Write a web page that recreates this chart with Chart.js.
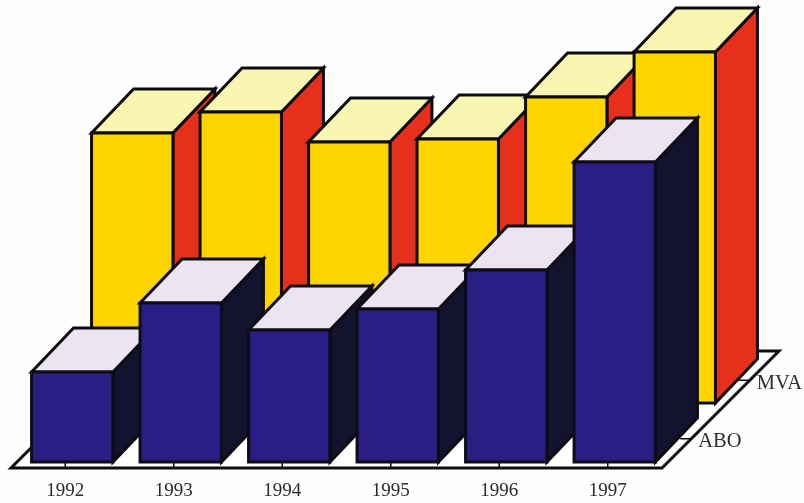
<!DOCTYPE html>
<html>
<head>
<meta charset="utf-8">
<script src="https://cdn.jsdelivr.net/npm/chart.js@4/dist/chart.umd.js"></script>
<style>
html, body { margin: 0; padding: 0; background: #fdfdfc; }
canvas { display: block; }
</style>
</head>
<body>
<canvas id="bars3d" width="804" height="503"></canvas>
<script>
const years = ['1992', '1993', '1994', '1995', '1996', '1997'];
const rows = ['ABO', 'MVA'];
const abo = [30, 53, 44, 51, 64, 100];
const mva = [90, 97, 87, 88, 102, 117];

// oblique projection: how far one row of the floor runs back
const floorDepth = { x: 117, y: -117 };
const barDepth = { x: 42, y: -44 };
const rowShift = [{ x: 7, y: -6 }, { x: 67, y: -65 }];
const rowTicks = [0.25, 0.75];

const faces = [
    { front: '#2a1e84', side: '#13122f', top: '#ece4f3' },
    { front: '#ffd500', side: '#e6301c', top: '#f8f6b0' },
];

function poly(ctx, pts, fill) {
    ctx.beginPath();
    pts.forEach((p, i) => i ? ctx.lineTo(p[0], p[1]) : ctx.moveTo(p[0], p[1]));
    ctx.closePath();
    ctx.fillStyle = fill;
    ctx.fill();
    ctx.stroke();
}

function drawFloor(chart) {
    const ctx = chart.ctx;
    const a = chart.chartArea;
    const x = chart.scales.x;
    poly(ctx, [
        [a.left, a.bottom],
        [a.right, a.bottom],
        [a.right + floorDepth.x, a.bottom + floorDepth.y],
        [a.left + floorDepth.x, a.bottom + floorDepth.y],
    ], '#ffffff');

    ctx.lineWidth = 1.5;
    years.forEach((y, i) => {
        const px = x.getPixelForTick(i);
        ctx.beginPath();
        ctx.moveTo(px, a.bottom - 6);
        ctx.lineTo(px, a.bottom);
        ctx.stroke();
    });

    // row names along the right edge of the floor
    ctx.font = '20.5px "Liberation Serif"';
    ctx.textAlign = 'left';
    ctx.textBaseline = 'middle';
    rows.forEach((name, i) => {
        const ex = a.right + floorDepth.x * rowTicks[i];
        const ey = a.bottom + floorDepth.y * rowTicks[i];
        ctx.beginPath();
        ctx.moveTo(ex - 11, ey);
        ctx.lineTo(ex, ey);
        ctx.stroke();
        ctx.fillStyle = '#2e2e2e';
        ctx.fillText(name, ex + 7, ey + 3);
    });
}

function drawBar(ctx, bar, shift, look) {
    const half = bar.width / 2;
    const l = bar.x - half + shift.x;
    const r = bar.x + half + shift.x;
    const t = bar.y + shift.y;
    const b = bar.base + shift.y;
    const dx = barDepth.x;
    const dy = barDepth.y;
    poly(ctx, [[r, t], [r + dx, t + dy], [r + dx, b + dy], [r, b]], look.side);
    poly(ctx, [[l, t], [r, t], [r + dx, t + dy], [l + dx, t + dy]], look.top);
    poly(ctx, [[l, t], [r, t], [r, b], [l, b]], look.front);
}

const blocks = {
    id: 'blocks',
    beforeDatasetsDraw(chart) {
        const ctx = chart.ctx;
        ctx.save();
        ctx.strokeStyle = '#0c0c12';
        ctx.lineWidth = 3;
        ctx.lineJoin = 'miter';
        drawFloor(chart);
        ctx.lineWidth = 3;
        // far row first, each row left to right, so nearer blocks overlap
        for (let i = rows.length - 1; i >= 0; i--) {
            chart.getDatasetMeta(i).data.forEach(bar => {
                drawBar(ctx, bar, rowShift[i], faces[i]);
            });
        }
        ctx.restore();
        return false;
    }
};

new Chart(document.getElementById('bars3d'), {
    type: 'bar',
    data: {
        labels: years,
        datasets: [
            { label: rows[0], data: abo },
            { label: rows[1], data: mva },
        ]
    },
    options: {
        responsive: false,
        animation: false,
        layout: { padding: { left: 11, right: 142, top: 18, bottom: 0 } },
        plugins: { legend: { display: false }, tooltip: { enabled: false } },
        datasets: { bar: { grouped: false, categoryPercentage: 0.75, barPercentage: 1 } },
        scales: {
            x: {
                grid: { display: false },
                border: { display: false },
                ticks: {
                    color: '#2a2a2a',
                    maxRotation: 0,
                    padding: 4,
                    font: { family: '"Liberation Serif"', size: 19 }
                },
                afterFit(scale) { scale.height = 35; }
            },
            y: { display: false, min: 0, max: 150 }
        }
    },
    plugins: [blocks]
});
</script>
</body>
</html>
